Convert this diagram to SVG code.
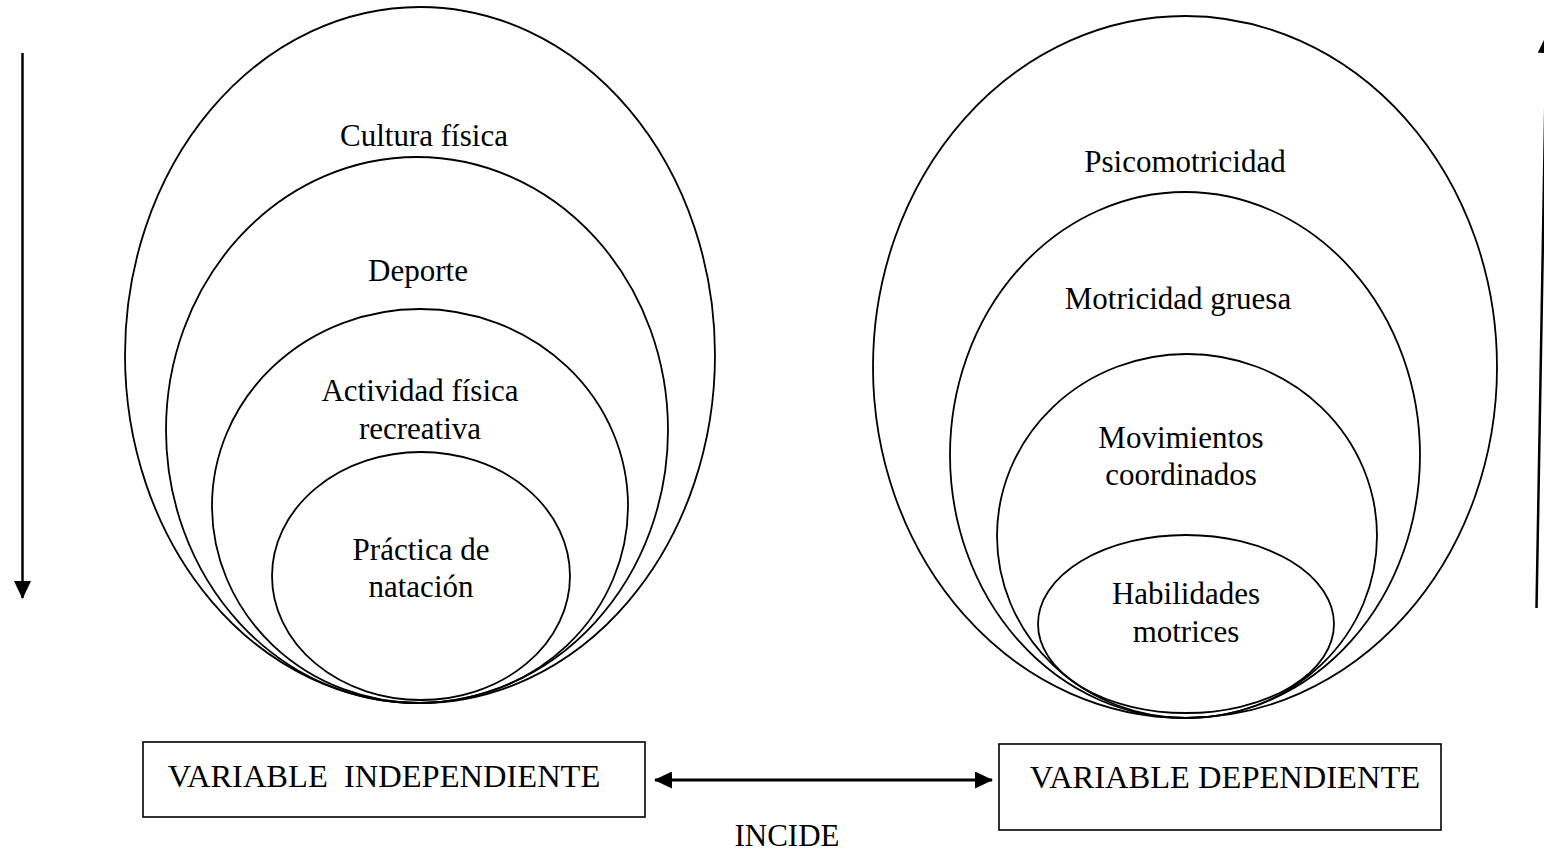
<svg xmlns="http://www.w3.org/2000/svg" width="1544" height="851" viewBox="0 0 1544 851">
<style>
.e{fill:none;stroke:#000;stroke-width:1.8}
.b{fill:#fff;stroke:#000;stroke-width:1.6}
.t{font-family:"Liberation Serif","Times New Roman",serif;font-size:31px;fill:#000;text-anchor:middle}
.bt{font-size:32.5px}
.c{fill:none;stroke:#000;stroke-width:2.5}
</style>
<defs>
<marker id="ahb" markerWidth="18" markerHeight="17" refX="17" refY="8.5" orient="auto-start-reverse" markerUnits="userSpaceOnUse" viewBox="0 0 18 17">
<path d="M0,0 L18,8.5 L0,17 z" fill="#000"/>
</marker>
</defs>
<rect width="1544" height="851" fill="#fff"/>
<g id="left-set">
<g id="n-cultura"><ellipse class="e" cx="420" cy="355" rx="295" ry="348"/><text class="t" x="424" y="146">Cultura física</text></g>
<g id="n-deporte"><ellipse class="e" cx="417" cy="430" rx="251" ry="273"/><text class="t" x="418" y="281">Deporte</text></g>
<g id="n-actividad"><ellipse class="e" cx="420" cy="506" rx="208" ry="197"/><text class="t" x="420" y="401">Actividad física</text><text class="t" x="420" y="439">recreativa</text></g>
<g id="n-practica"><ellipse class="e" cx="421" cy="576" rx="149" ry="124"/><text class="t" x="421" y="560">Práctica de</text><text class="t" x="421" y="597">natación</text></g>
</g>
<g id="right-set">
<g id="n-psico"><ellipse class="e" cx="1185" cy="367" rx="312" ry="351"/><text class="t" x="1185" y="172">Psicomotricidad</text></g>
<g id="n-motricidad"><ellipse class="e" cx="1185" cy="455" rx="235" ry="263"/><text class="t" x="1178" y="309">Motricidad gruesa</text></g>
<g id="n-movimientos"><ellipse class="e" cx="1187" cy="536" rx="190" ry="182"/><text class="t" x="1181" y="448">Movimientos</text><text class="t" x="1181" y="485">coordinados</text></g>
<g id="n-habilidades"><ellipse class="e" cx="1186" cy="624" rx="148" ry="89"/><text class="t" x="1186" y="604">Habilidades</text><text class="t" x="1186" y="642">motrices</text></g>
</g>
<g id="n-vi"><rect class="b" x="143" y="742" width="502" height="75"/><text class="t bt" x="384" y="787" xml:space="preserve">VARIABLE  INDEPENDIENTE</text></g>
<g id="n-vd"><rect class="b" x="999" y="744" width="442" height="86"/><text class="t bt" x="1225" y="788">VARIABLE DEPENDIENTE</text></g>
<g id="n-incide"><text class="t" x="787" y="846">INCIDE</text></g>
<g id="connectors">
<line class="c" x1="655" y1="780" x2="992" y2="780" marker-start="url(#ahb)" marker-end="url(#ahb)" style="stroke-width:3"/>
<line class="c" x1="22.5" y1="53" x2="22.5" y2="598" marker-end="url(#ahb)"/>
<line class="c" x1="1536.5" y1="608" x2="1546.5" y2="36" marker-end="url(#ahb)"/>
</g>
</svg>
